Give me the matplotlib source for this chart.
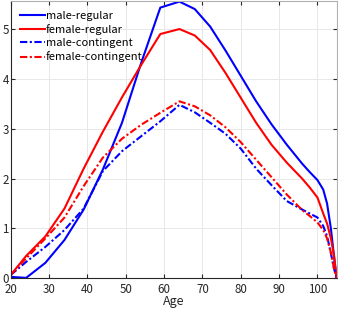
import numpy as np
import matplotlib.pyplot as plt

# --- data ---
ages = [20, 24, 29, 34, 39, 44, 49, 54, 59, 64, 68, 72, 76, 80, 84, 88,
        92, 96, 98, 100, 101.5, 102.5, 103.5, 104.3, 105]

male_regular = [0.03, 0.01, 0.31, 0.77, 1.38, 2.18, 3.12, 4.32, 5.43, 5.55,
                5.40, 5.05, 4.57, 4.06, 3.55, 3.09, 2.68, 2.30, 2.13, 1.97,
                1.78, 1.50, 1.00, 0.45, 0.0]
female_regular = [0.07, 0.45, 0.84, 1.40, 2.20, 2.94, 3.63, 4.28, 4.90, 5.00,
                  4.87, 4.58, 4.12, 3.62, 3.12, 2.68, 2.32, 2.00, 1.82, 1.62,
                  1.30, 1.10, 0.80, 0.47, 0.0]
male_contingent = [0.07, 0.33, 0.63, 0.97, 1.40, 2.15, 2.55, 2.85, 3.15, 3.48,
                   3.33, 3.12, 2.90, 2.60, 2.20, 1.87, 1.55, 1.38, 1.30, 1.22,
                   1.05, 0.85, 0.50, 0.20, 0.0]
female_contingent = [0.07, 0.40, 0.80, 1.22, 1.85, 2.42, 2.80, 3.08, 3.32, 3.55,
                     3.45, 3.27, 3.03, 2.73, 2.38, 2.03, 1.68, 1.37, 1.25, 1.12,
                     0.97, 0.80, 0.52, 0.20, 0.0]

xticks = [20, 30, 40, 50, 60, 70, 80, 90, 100]
yticks = [0, 1, 2, 3, 4, 5]

plt.rcParams['font.family'] = ['Noto Sans CJK JP', 'DejaVu Sans']

fig = plt.figure(figsize=(3.38, 3.11), dpi=100)
ax = fig.add_axes([0.032, 0.105, 0.964, 0.893])

dashdot = (0, (3.5, 1.2, 1, 1.2))
ax.plot(ages, male_regular, color='#0000ff', lw=1.5, label='male-regular')
ax.plot(ages, female_regular, color='#ff0000', lw=1.5, label='female-regular')
ax.plot(ages, male_contingent, color='#0000ff', lw=1.5, ls=dashdot, label='male-contingent')
ax.plot(ages, female_contingent, color='#ff0000', lw=1.5, ls=dashdot, label='female-contingent')

ax.set_xlim(20, 105)
ax.set_ylim(0, 5.57)
ax.set_xticks(xticks)
ax.set_yticks(yticks)
ax.grid(True, color='#e8e8e8', lw=0.7)
ax.set_axisbelow(True)
ax.tick_params(direction='in', length=3, top=True, right=True, labelsize=8.3,
               colors='#262626')
ax.tick_params(axis='x', pad=3.5)
ax.tick_params(axis='y', pad=1.5)
for s in ax.spines.values():
    s.set_color('#b0b0b0')
ax.spines['bottom'].set_color('#262626')
ax.spines['left'].set_color('#262626')
ax.set_xlabel('Age', fontsize=9, labelpad=-1, color='#262626')

ax.legend(loc='upper left', frameon=False, fontsize=8, handlelength=2.2,
          handletextpad=0.1, labelspacing=0.3, borderaxespad=0.0,
          bbox_to_anchor=(0.015, 0.98))

fig.savefig('out.png', dpi=100)
